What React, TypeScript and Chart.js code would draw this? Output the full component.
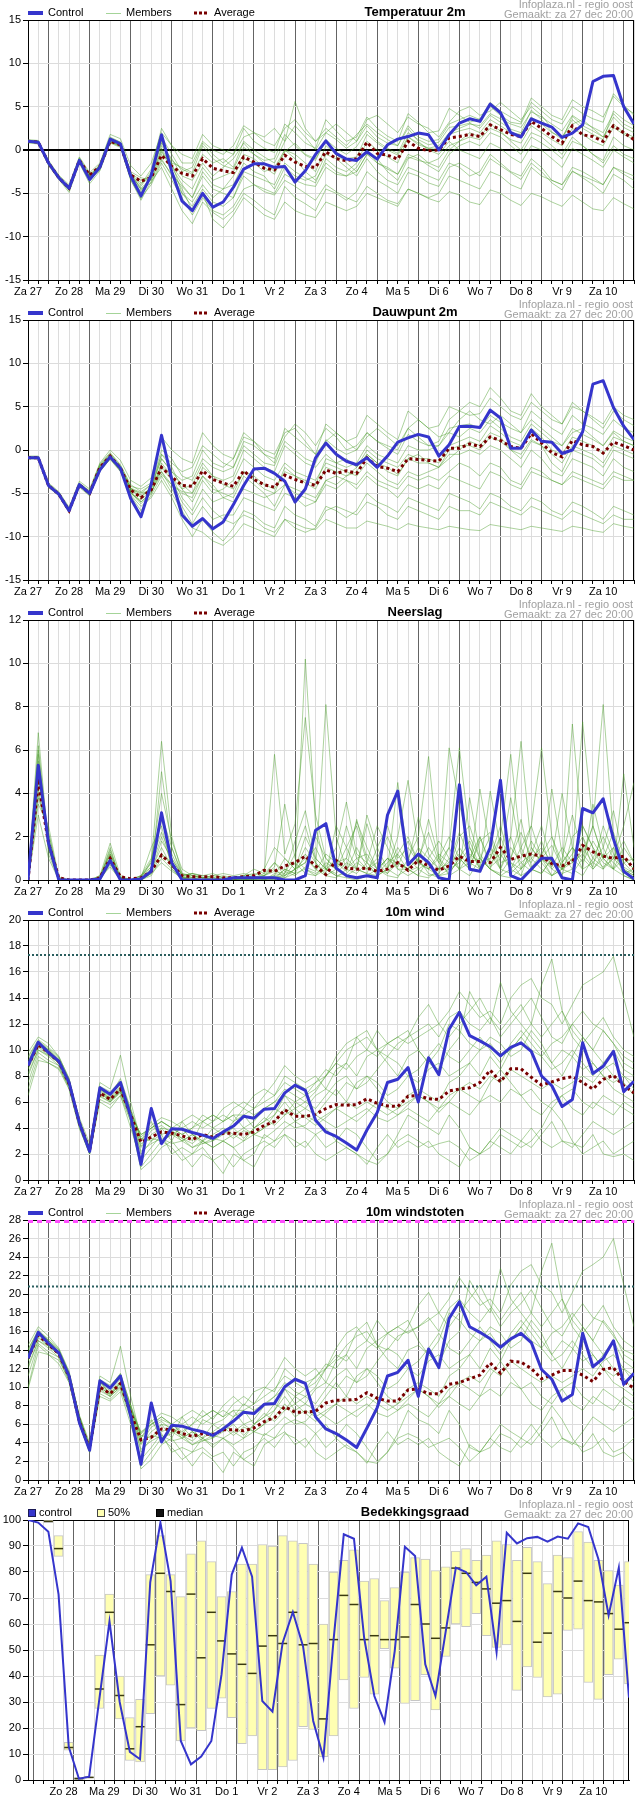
import React, { useEffect, useRef } from 'react';
import { Chart, registerables } from 'chart.js';

Chart.register(...registerables);

// ---------- shared labels ----------
const DAY_LABELS = ['Za 27', 'Zo 28', 'Ma 29', 'Di 30', 'Wo 31', 'Do 1', 'Vr 2', 'Za 3', 'Zo 4', 'Ma 5', 'Di 6', 'Wo 7', 'Do 8', 'Vr 9', 'Za 10'];
const STEP_MAX = 59; // 6-hour steps, step 0 = Za 27 12:00

// ---------- Temperatuur 2m ----------
const TEMP_CONTROL = [1.0, 0.9, -1.5, -3.2, -4.4, -1.2, -3.4, -2.0, 1.25, 0.7, -3.0, -5.3, -2.9, 1.75, -2.5, -5.9, -7.0, -5.0, -6.6, -6.0, -4.3, -2.2, -1.6, -1.6, -2.0, -1.9, -3.7, -2.4, -0.5, 1.05, -0.4, -1.05, -1.2, -0.2, -1.05, 0.6, 1.25, 1.55, 1.95, 1.75, 0.0, 1.75, 3.1, 3.6, 3.3, 5.3, 4.3, 2.0, 1.5, 3.6, 3.1, 2.65, 1.45, 1.95, 2.9, 7.9, 8.5, 8.6, 5.0, 3.0];
const TEMP_AVERAGE = [1.0, 0.9, -1.5, -3.2, -4.4, -1.2, -2.9, -1.9, 1.0, 0.6, -2.9, -3.6, -3.2, -0.6, -1.9, -2.7, -3.0, -1.0, -2.1, -2.4, -2.6, -0.8, -1.4, -2.1, -2.3, -0.6, -1.4, -1.9, -2.0, -0.2, -1.0, -1.25, -1.0, 0.9, -0.4, -0.6, -1.05, 1.0, 0.2, -0.1, 0.0, 1.4, 1.55, 1.8, 1.55, 2.9, 2.35, 1.8, 1.55, 3.3, 2.5, 1.55, 0.8, 2.8, 1.75, 1.55, 1.0, 2.8, 2.0, 1.2];
const TEMP_MEMBERS = [
  [1.1, 1.0, -1.3, -3.0, -4.6, -1.0, -3.2, -1.6, 1.5, 0.9, -2.5, -3.2, -3.5, -0.5, -1.5, -2.0, -2.6, 0.5, -1.0, -1.8, -2.2, 0.3, -0.5, -1.2, -1.0, 1.8, 0.5, -0.6, -1.2, 1.2, 0.2, -0.5, 0.4, 2.2, 1.0, 0.2, -0.4, 2.0, 1.2, 0.6, 0.9, 2.6, 2.8, 3.1, 2.5, 4.0, 3.2, 2.4, 2.0, 4.6, 3.5, 2.1, 1.2, 3.9, 2.8, 2.2, 1.5, 3.8, 2.6, 2.0],
  [0.8, 0.7, -1.8, -3.4, -4.9, -1.5, -3.9, -2.4, 0.8, 0.3, -3.4, -5.8, -3.6, -2.0, -4.5, -7.0, -8.5, -6.0, -7.2, -8.0, -7.0, -5.0, -5.8, -6.8, -7.5, -4.2, -5.5, -6.2, -7.0, -4.5, -5.0, -5.8, -4.8, -2.5, -3.5, -4.2, -5.0, -2.6, -3.0, -3.8, -4.2, -2.0, -1.5, -2.2, -3.0, -1.0, -1.8, -2.6, -3.4, -1.5, -2.5, -3.8, -4.6, -2.4, -3.2, -4.0, -5.0, -2.8, -3.5, -4.5],
  [1.0, 0.9, -1.6, -3.3, -4.3, -1.3, -3.0, -2.2, 1.0, 0.5, -3.2, -4.8, -3.0, 0.2, -2.0, -4.0, -5.5, -3.0, -4.5, -5.0, -5.5, -3.0, -4.0, -4.8, -5.2, -3.5, -4.2, -5.0, -5.8, -4.0, -4.8, -5.5, -6.0, -4.2, -5.0, -5.8, -6.2, -4.5, -5.0, -5.6, -6.0, -4.8, -5.2, -6.0, -6.3, -4.6, -5.0, -5.8, -6.4, -5.0, -5.4, -6.0, -6.5, -5.2, -6.0, -6.8, -7.0, -5.5, -6.2, -6.8],
  [1.2, 1.1, -1.2, -2.9, -4.0, -0.8, -2.6, -1.5, 1.8, 1.3, -1.8, -3.0, -1.5, 2.0, 0.5, -0.5, -1.0, 1.8, 0.5, 0.0, -0.5, 2.5, 1.0, 0.2, -0.3, 3.0, 2.0, 0.8, 0.2, 3.5, 2.2, 1.0, 1.5, 3.8, 2.5, 1.6, 1.0, 4.2, 3.2, 2.0, 2.2, 4.8, 4.0, 3.2, 3.6, 5.5, 4.5, 3.8, 3.2, 6.0, 5.0, 4.0, 3.5, 5.8, 5.0, 4.5, 3.8, 6.2, 5.0, 4.2],
  [0.9, 0.8, -1.5, -3.1, -4.5, -1.1, -3.5, -2.1, 1.1, 0.6, -3.1, -4.2, -2.5, 0.5, -1.0, -3.0, -3.5, -1.5, -3.0, -2.0, -1.0, 0.8, -0.5, -1.5, -2.5, 0.0, -1.0, -2.5, -3.5, -1.5, -2.5, -3.0, -2.0, 0.0, -1.5, -2.0, -2.8, -0.5, -1.0, -1.8, -2.5, -0.5, 0.5, 1.0, 0.5, 2.0, 1.5, 0.5, -0.5, 1.5, 0.8, 0.0, -1.0, 1.0, 0.5, -0.5, -1.5, 0.5, -0.5, -1.0],
  [1.0, 1.0, -1.4, -3.2, -4.2, -0.9, -2.8, -1.8, 1.4, 0.9, -2.6, -4.6, -3.4, -1.0, -3.0, -5.0, -6.5, -4.5, -6.0, -6.5, -5.5, -2.5, -3.0, -3.5, -4.0, -1.5, -2.5, -3.2, -3.8, -1.0, -2.0, -2.5, -1.5, 1.0, 0.0, -0.8, -1.5, 1.5, 0.8, 0.2, 0.5, 2.0, 2.5, 3.0, 2.8, 4.2, 3.6, 3.0, 2.6, 4.4, 3.8, 3.0, 2.2, 4.0, 3.2, 2.6, 2.0, 4.2, 3.0, 2.4],
  [1.1, 0.9, -1.6, -3.4, -4.6, -1.3, -3.3, -2.3, 0.9, 0.4, -3.5, -5.5, -4.0, -1.5, -3.5, -5.5, -7.5, -5.5, -7.0, -7.5, -6.5, -4.5, -4.0, -4.5, -5.0, -2.8, -3.5, -4.0, -4.2, -2.0, -2.8, -3.0, -2.5, -0.5, -1.5, -2.2, -2.8, -0.8, -1.2, -1.5, -1.0, 0.5, 1.0, 1.5, 1.2, 2.5, 2.0, 1.2, 0.8, 2.8, 2.0, 1.2, 0.5, 2.5, 1.8, 1.0, 0.5, 2.6, 1.8, 1.2],
  [1.0, 0.9, -1.5, -3.1, -4.3, -1.1, -3.1, -1.9, 1.2, 0.8, -2.8, -3.8, -3.2, 1.5, -0.5, -2.5, -2.0, 0.8, -0.5, -1.5, -0.5, 1.5, 2.0, 1.0, 0.5, 2.5, 3.5, 2.0, 1.0, 2.5, 1.5, 0.5, 1.8, 3.0, 2.0, 1.2, 0.5, 2.5, 1.0, 0.0, -0.5, 1.0, 0.0, -0.5, -1.0, 0.8, 0.2, -0.8, -1.5, 0.5, 0.0, -1.0, -2.0, 0.2, -0.5, -1.2, -2.0, 0.0, -0.8, -1.5],
  [1.1, 1.0, -1.4, -3.0, -4.4, -1.2, -3.0, -1.7, 1.3, 0.8, -2.9, -4.4, -3.3, -0.2, -1.8, -3.5, -4.5, -2.0, -3.5, -3.0, -2.5, -0.5, -1.0, -2.0, -2.8, -0.2, 0.8, -0.5, -1.0, 1.0, -0.2, -1.0, -0.8, 1.8, 0.8, 0.0, -0.6, 1.5, 0.6, 0.2, 0.0, 1.8, 2.2, 2.5, 2.0, 3.5, 2.8, 2.0, 1.8, 3.8, 3.0, 2.0, 1.5, 3.5, 2.5, 1.8, 1.2, 4.5, 3.5, 2.8],
  [0.9, 0.8, -1.7, -3.3, -4.7, -1.4, -3.6, -2.2, 0.9, 0.5, -3.3, -5.0, -2.8, 0.8, -1.2, -2.2, -2.8, -0.5, -1.5, -1.0, -2.0, 1.0, 0.0, -0.8, -1.5, 1.0, 5.6, 2.5, 1.0, 2.0, 1.2, 0.2, 1.0, 2.8, 1.5, 0.8, 0.5, 2.8, 1.5, 1.0, 1.2, 3.0, 3.5, 4.0, 3.5, 5.0, 4.0, 3.2, 3.0, 5.5, 4.5, 3.5, 3.0, 5.0, 4.2, 3.6, 3.2, 6.5, 5.2, 4.0],
  [1.0, 0.8, -1.6, -3.2, -4.5, -1.3, -3.2, -2.0, 1.1, 0.6, -3.0, -4.0, -2.2, 2.5, 0.5, -1.5, -1.5, 1.0, 0.0, -0.5, 0.5, 2.8, 2.0, 1.5, 2.5, 1.0, 2.8, 1.5, 0.0, 2.0, 3.0, 2.0, 1.0, 3.5, 4.0, 3.0, 2.0, 3.8, 3.0, 2.5, 1.5, 3.2, 4.5, 5.0, 4.0, 4.5, 5.5, 4.5, 3.5, 5.0, 4.0, 2.5, 1.5, 3.0, 3.5, 2.5, 1.5, 3.0, 2.0, 1.5],
  [1.1, 1.0, -1.5, -3.3, -4.4, -1.0, -3.1, -2.1, 1.0, 0.5, -3.2, -4.5, -3.8, -1.2, -2.8, -4.2, -5.5, -2.5, -4.0, -4.5, -4.0, -1.5, -2.5, -3.0, -4.5, -2.0, -3.0, -3.5, -3.0, -0.5, -1.0, -2.0, -3.0, -1.0, -2.5, -3.5, -4.0, -2.0, -2.5, -3.0, -3.5, -1.5, -2.0, -3.0, -2.5, -0.5, -1.5, -2.5, -3.0, -1.0, -2.0, -3.5, -4.0, -2.0, -2.5, -3.2, -4.0, -2.0, -2.5, -3.0],
  [0.9, 0.9, -1.4, -3.1, -4.4, -1.2, -3.3, -1.8, 1.2, 0.7, -3.0, -5.6, -2.6, 1.0, -1.5, -5.0, -6.0, -4.0, -5.5, -4.5, -3.0, -1.0, -1.5, -2.5, -2.0, 0.0, -0.5, -1.5, -2.5, 0.5, -0.5, -1.5, -2.5, -0.5, -1.0, -2.5, -3.5, -1.0, -0.5, -1.5, -2.0, 0.0, 1.0, 2.0, 1.5, 3.0, 2.2, 1.0, 0.0, 2.0, 1.5, 0.5, -0.5, 1.5, 0.5, -0.5, -1.2, 1.5, 0.5, 0.0],
  [1.0, 1.0, -1.5, -3.2, -4.3, -1.1, -2.9, -1.9, 1.3, 0.8, -2.7, -3.5, -3.0, 0.0, -2.5, -4.5, -7.0, -5.0, -8.0, -9.0, -7.5, -5.5, -6.5, -7.5, -8.0, -6.0, -7.0, -7.5, -7.8, -6.0, -6.5, -7.0, -6.5, -5.0, -5.5, -6.0, -6.5, -4.5, -5.0, -5.5, -5.0, -3.0, -3.5, -4.0, -4.5, -2.5, -3.0, -4.0, -4.5, -2.0, -3.0, -3.5, -4.0, -2.5, -3.0, -3.5, -4.0, -2.0, -2.8, -3.5],
];

// ---------- Dauwpunt 2m ----------
const DEW_CONTROL = [-0.9, -0.9, -4.1, -5.1, -7.0, -4.0, -5.0, -2.3, -0.8, -2.1, -5.6, -7.7, -3.9, 1.7, -3.4, -7.5, -8.8, -7.9, -9.1, -8.3, -6.3, -4.1, -2.2, -2.1, -2.7, -3.6, -6.0, -4.5, -0.9, 0.8, -0.5, -1.3, -1.7, -0.9, -2.0, -0.7, 0.9, 1.4, 1.8, 1.5, -0.7, 0.6, 2.7, 2.75, 2.6, 4.6, 3.7, 0.2, 0.2, 2.3, 1.0, 0.9, -0.4, 0.0, 2.1, 7.6, 8.0, 4.9, 2.75, 1.2];
const DEW_AVERAGE = [-0.9, -0.9, -4.1, -5.1, -7.0, -4.0, -5.0, -2.0, -0.7, -2.1, -4.6, -5.5, -4.6, -2.0, -3.1, -4.1, -4.2, -2.4, -3.4, -3.8, -4.2, -2.4, -3.4, -4.0, -4.3, -2.9, -3.4, -3.8, -4.1, -2.3, -2.7, -2.4, -2.7, -0.9, -1.9, -2.1, -2.5, -1.0, -1.1, -1.2, -1.3, 0.2, 0.2, 0.7, 0.4, 1.5, 1.1, 0.4, 0.2, 1.9, 0.8, -0.3, -0.8, 1.1, 0.6, 0.4, -0.35, 0.9, 0.5, 0.0];
const DEW_MEMBERS = [
  [-0.8, -0.8, -3.9, -4.9, -6.8, -3.8, -4.7, -1.6, -0.3, -1.7, -4.0, -4.8, -4.0, -0.5, -1.5, -2.5, -2.0, 0.5, -0.5, -1.5, -2.0, 0.5, -0.5, -1.5, -1.8, 1.0, 0.0, -1.0, -1.5, 1.2, 0.2, -0.5, 0.0, 2.0, 1.0, 0.2, -0.5, 1.8, 1.0, 0.5, 0.5, 2.5, 2.8, 3.0, 2.5, 4.0, 3.2, 2.5, 2.0, 4.5, 3.5, 2.5, 1.8, 4.0, 3.0, 2.5, 1.8, 3.5, 2.5, 2.0],
  [-1.0, -1.0, -4.3, -5.3, -7.2, -4.3, -5.3, -2.4, -1.1, -2.5, -5.2, -6.5, -5.5, -3.5, -5.5, -8.0, -10.0, -8.0, -9.5, -10.5, -9.0, -7.0, -7.5, -8.5, -9.0, -6.5, -7.5, -8.0, -8.8, -6.5, -7.0, -7.8, -7.0, -5.0, -6.0, -6.5, -7.2, -5.5, -6.0, -6.5, -7.0, -5.0, -5.5, -6.0, -6.8, -5.0, -5.5, -6.5, -7.0, -5.5, -6.0, -7.0, -7.5, -6.0, -6.5, -7.2, -8.0, -6.5, -7.0, -7.5],
  [-0.9, -0.9, -4.0, -5.0, -7.1, -4.1, -5.0, -2.2, -0.8, -2.2, -4.8, -6.0, -5.0, -2.0, -3.5, -6.0, -7.5, -5.5, -7.0, -8.0, -8.5, -7.5, -8.0, -9.0, -9.5, -8.0, -8.5, -9.0, -9.2, -8.0, -8.5, -9.0, -9.0, -8.2, -8.5, -8.8, -9.2, -8.5, -8.8, -9.0, -9.2, -8.8, -9.0, -9.2, -9.3, -8.6, -8.8, -9.0, -9.2, -8.8, -9.0, -9.2, -9.4, -8.8, -9.0, -9.3, -9.5, -8.5, -8.8, -9.0],
  [-0.7, -0.7, -3.8, -4.8, -6.6, -3.6, -4.5, -1.5, 0.0, -1.2, -3.5, -4.2, -3.2, 1.5, 0.0, -1.0, -1.5, 2.0, 0.5, -0.5, -1.0, 2.0, 1.0, -0.5, -1.5, 2.5, 1.5, 0.5, -0.5, 3.0, 2.0, 1.0, 1.5, 4.0, 3.0, 2.0, 1.2, 4.5, 3.5, 2.5, 2.8, 5.0, 4.5, 4.0, 4.2, 6.0, 5.0, 4.0, 3.5, 5.5, 4.5, 3.5, 3.0, 5.0, 4.5, 3.8, 3.0, 5.0, 4.0, 3.5],
  [-1.0, -1.0, -4.2, -5.2, -7.0, -4.0, -5.2, -2.3, -1.0, -2.4, -5.0, -6.0, -4.8, -2.5, -4.0, -5.0, -5.5, -3.0, -4.5, -5.0, -5.5, -3.0, -4.0, -5.0, -6.5, -4.0, -5.0, -5.5, -6.0, -3.5, -4.0, -3.0, -2.5, -0.5, -1.5, -2.0, -2.8, -1.0, -0.5, -1.5, -2.0, 0.0, 0.5, 0.5, 0.0, 1.5, 1.0, 0.0, -0.5, 1.2, 0.5, -0.5, -1.5, 0.5, 0.0, -0.5, -1.5, 0.5, 0.0, -0.5],
  [-0.8, -0.9, -4.1, -5.0, -6.9, -3.9, -4.8, -1.8, -0.5, -1.9, -4.4, -5.2, -4.4, -1.0, -2.5, -4.0, -5.0, -2.0, -3.0, -3.5, -3.0, 0.0, -1.0, -2.0, -2.5, 0.5, -0.5, -1.5, -2.0, -0.5, -1.5, -2.0, -1.5, 0.5, -0.5, -1.0, -1.5, 0.5, 0.0, 0.0, 0.5, 2.0, 1.5, 2.5, 2.0, 3.5, 2.5, 1.5, 1.0, 3.0, 2.0, 1.0, 0.5, 2.5, 1.8, 1.2, 0.5, 2.2, 1.5, 1.0],
  [-0.9, -1.0, -4.2, -5.2, -7.1, -4.1, -5.1, -2.1, -0.8, -2.2, -4.9, -6.2, -5.0, -1.5, -3.0, -5.5, -7.0, -4.5, -6.0, -5.5, -5.0, -2.5, -3.5, -4.5, -5.0, -2.0, -3.0, -3.5, -4.0, -1.0, -1.5, -1.0, -2.0, 0.0, -1.0, -1.5, -2.0, -0.5, -1.0, -1.0, -1.5, 0.5, 1.0, 1.5, 1.0, 2.8, 2.0, 1.0, 0.5, 2.5, 1.5, 0.0, -0.5, 1.5, 1.0, 0.5, -0.5, 1.5, 1.0, 0.5],
  [-0.9, -0.8, -4.0, -5.1, -7.0, -4.0, -4.9, -1.9, -0.6, -2.0, -4.5, -5.0, -4.0, -2.5, -4.5, -6.5, -8.5, -6.5, -8.0, -7.5, -7.5, -5.5, -6.0, -6.5, -7.0, -5.0, -5.5, -6.5, -6.0, -4.0, -4.5, -3.5, -4.0, -2.5, -3.5, -4.0, -4.5, -3.0, -3.5, -3.0, -3.5, -2.5, -1.5, -2.0, -3.0, -1.5, -2.0, -3.5, -4.0, -2.0, -2.5, -3.5, -4.0, -2.5, -3.0, -3.5, -4.0, -2.5, -3.0, -3.5],
  [-0.8, -0.9, -4.1, -5.0, -6.8, -3.9, -4.9, -1.7, -0.4, -1.8, -4.2, -4.5, -3.8, 0.0, -1.0, -3.0, -3.5, -1.0, -2.0, -2.5, -2.0, 1.0, 0.5, -0.5, -1.0, 1.5, 3.0, 2.0, 0.5, 2.5, 1.5, 0.0, 0.5, 2.0, 1.0, 0.5, 0.0, 2.5, 1.5, 0.5, 1.0, 3.5, 4.5, 5.5, 5.0, 7.2, 6.0, 4.5, 4.0, 6.5, 5.0, 4.0, 3.0, 5.5, 4.5, 3.5, 2.5, 4.5, 3.5, 2.8],
  [-1.0, -0.9, -4.2, -5.2, -7.2, -4.1, -5.0, -2.2, -0.9, -2.3, -5.0, -5.8, -4.5, -1.8, -3.2, -4.5, -4.0, -1.5, -3.0, -4.0, -4.5, -2.5, -3.0, -4.0, -4.5, -2.5, -3.0, -3.8, -4.5, -2.0, -2.5, -3.0, -2.0, -0.5, -1.5, -2.5, -3.0, -1.0, -1.5, -1.5, -2.0, -0.5, -0.5, 0.0, -0.5, 0.5, 0.0, -1.0, -2.0, 0.0, -1.0, -2.5, -3.0, -1.0, -1.5, -2.0, -3.0, -1.0, -2.0, -2.5],
  [-0.9, -0.9, -4.0, -5.1, -6.9, -3.9, -5.0, -2.0, -0.7, -2.0, -4.5, -5.5, -4.2, -1.0, -2.5, -3.5, -3.0, 0.0, -1.5, -2.0, -1.0, 1.5, 1.0, 0.0, -0.5, 2.0, 2.5, 1.0, -0.5, 1.0, 2.0, 1.0, 0.0, 1.5, 2.5, 1.5, 0.5, 2.5, 3.5, 2.5, 1.5, 2.0, 3.5, 4.5, 3.5, 3.0, 4.0, 3.0, 2.0, 3.5, 2.5, 1.5, 0.5, 2.0, 2.5, 1.5, 0.5, 2.0, 1.0, 0.5],
  [-1.0, -1.0, -4.2, -5.2, -7.1, -4.2, -5.2, -2.5, -1.0, -2.4, -5.3, -7.0, -5.2, -3.0, -5.0, -7.0, -9.0, -9.5, -10.5, -11.0, -10.0, -8.5, -9.0, -9.5, -10.0, -8.0, -9.0, -9.5, -9.0, -7.0, -6.5, -7.0, -7.5, -6.0, -6.5, -7.5, -8.0, -6.5, -7.0, -7.5, -8.0, -6.5, -7.0, -7.0, -7.5, -6.0, -6.5, -7.0, -7.5, -6.5, -7.0, -7.5, -8.0, -7.0, -7.5, -8.0, -8.5, -7.5, -8.0, -8.0],
  [-0.8, -0.8, -4.0, -5.0, -7.0, -4.0, -5.0, -2.1, -0.7, -2.0, -4.6, -5.4, -4.4, -0.5, -2.0, -4.5, -6.0, -3.5, -5.0, -4.5, -3.5, -1.0, -2.0, -3.0, -3.5, -1.5, -2.5, -3.0, -3.5, -1.5, -2.0, -2.5, -3.0, -1.5, -2.5, -3.5, -4.0, -2.5, -3.0, -2.5, -2.0, -1.0, 0.0, 1.0, 0.5, 2.0, 1.5, 0.0, -1.0, 1.0, 0.5, -1.5, -2.5, 0.0, -0.5, -1.0, -2.0, 0.0, -0.5, -1.0],
  [-0.9, -0.9, -4.1, -5.1, -7.0, -4.0, -4.9, -1.9, -0.6, -2.0, -4.4, -4.9, -4.8, -2.8, -4.0, -4.8, -5.0, -3.0, -4.0, -5.5, -6.0, -4.5, -5.0, -5.5, -5.0, -4.0, -4.5, -5.0, -5.5, -3.5, -3.0, -3.5, -4.5, -3.0, -4.0, -4.5, -5.5, -4.0, -4.5, -4.0, -4.5, -3.0, -3.5, -4.0, -4.5, -2.5, -3.0, -4.0, -4.5, -2.5, -3.0, -3.5, -4.0, -3.0, -3.5, -4.0, -4.5, -3.0, -3.5, -3.5],
];

// ---------- Neerslag ----------
const RAIN_CONTROL = [0, 5.3, 1.7, 0, 0, 0, 0, 0.05, 0.9, 0, 0, 0.05, 0.4, 3.1, 0.8, 0, 0, 0, 0, 0, 0.1, 0.1, 0.1, 0.1, 0.1, 0.0, 0.0, 0.2, 2.3, 2.6, 0.55, 0.2, 0.1, 0.2, 0.1, 3.0, 4.1, 0.7, 1.2, 0.8, 0.1, 0.0, 4.4, 0.5, 0.4, 1.5, 4.6, 0.2, 0.0, 0.5, 1.0, 1.0, 0.1, 0.0, 3.3, 3.1, 3.75, 1.9, 0.4, 0.05];
const RAIN_AVERAGE = [0, 4.5, 1.7, 0.1, 0, 0, 0, 0.1, 1.0, 0.15, 0.05, 0.1, 0.4, 1.15, 0.7, 0.2, 0.15, 0.15, 0.15, 0.1, 0.1, 0.15, 0.2, 0.45, 0.4, 0.65, 0.8, 1.1, 0.65, 0.25, 0.9, 0.55, 0.5, 0.55, 0.4, 0.5, 0.8, 0.45, 0.9, 0.65, 0.45, 0.65, 1.1, 0.85, 0.85, 0.8, 1.5, 0.95, 1.1, 1.2, 1.1, 0.75, 0.65, 0.85, 1.6, 1.3, 1.1, 1.0, 1.1, 0.5];
const RAIN_MEMBERS = [
  [0, 6.8, 1.5, 0.1, 0, 0, 0, 0.2, 1.2, 0.1, 0, 0.2, 0.8, 6.4, 2.0, 0.3, 0.2, 0.1, 0, 0, 0, 0.1, 0.2, 0, 0, 0.5, 0.3, 10.2, 2.5, 0.5, 0.2, 0.1, 0, 0.2, 0.5, 1.0, 0.8, 0.5, 0.2, 0.1, 0.5, 1.5, 6.1, 2.0, 1.0, 0.5, 0.2, 0.1, 0.5, 1.2, 1.0, 0.2, 0.5, 7.2, 2.0, 0.5, 1.0, 1.5, 0.2, 0],
  [0, 4.0, 2.0, 0, 0, 0, 0, 0.1, 1.5, 0, 0, 0, 0.3, 5.0, 1.5, 0.2, 0.3, 0.2, 0.3, 0.1, 0, 0.2, 0.5, 0.3, 5.8, 1.2, 2.6, 7.5, 3.0, 1.0, 0.5, 1.5, 2.5, 0.8, 0.2, 0.5, 2.0, 4.6, 1.5, 0.5, 0.2, 0.3, 1.0, 0.5, 4.2, 1.5, 0.5, 2.0, 6.4, 1.5, 0.8, 0.2, 0.5, 1.0, 7.3, 2.5, 1.0, 0.5, 0.2, 0],
  [0, 5.5, 1.8, 0, 0, 0, 0, 0, 0.8, 0.1, 0, 0.1, 1.5, 2.5, 0.5, 0, 0, 0, 0.1, 0.2, 0.1, 0.1, 0, 0, 0, 0.2, 0.5, 1.0, 0.5, 8.1, 2.0, 0.5, 2.8, 1.0, 0.5, 0.2, 0.1, 1.0, 2.0, 5.7, 1.0, 0.2, 0.5, 3.8, 1.2, 0.5, 0.2, 0.5, 1.0, 2.5, 6.1, 2.0, 0.5, 0.3, 1.0, 2.5, 8.1, 2.0, 0.5, 0.2],
  [0, 3.0, 1.0, 0, 0, 0, 0, 0.1, 0.6, 0, 0, 0, 0.5, 1.2, 0.8, 0.1, 0, 0, 0, 0, 0.1, 0, 0.1, 0.2, 0.8, 0.2, 0.5, 1.5, 0.8, 0.3, 2.5, 1.5, 0.5, 3.0, 1.5, 0.5, 0.2, 0.5, 1.0, 0.3, 0.1, 6.1, 3.5, 1.5, 0.5, 1.0, 2.5, 0.8, 0.2, 0.5, 0.3, 1.0, 4.0, 1.5, 0.5, 3.5, 1.5, 0.5, 4.9, 1.5],
  [0, 4.5, 2.2, 0.1, 0, 0, 0, 0.2, 1.7, 0.2, 0, 0.1, 0.8, 4.0, 1.8, 0.5, 0.2, 0.1, 0.2, 0.3, 0.2, 0.3, 0.2, 0.5, 1.5, 1.0, 0.5, 2.0, 1.0, 0.5, 0.8, 1.0, 0.5, 0.3, 1.5, 2.5, 1.0, 1.5, 0.8, 0.5, 1.0, 2.0, 1.0, 0.5, 2.0, 0.8, 1.2, 0.5, 1.5, 2.5, 1.0, 0.5, 0.2, 2.0, 2.5, 1.5, 0.8, 0.5, 1.0, 0.5],
  [0, 5.0, 1.5, 0, 0, 0, 0, 0, 0.9, 0, 0, 0, 0.2, 1.0, 0.5, 0.1, 0, 0, 0, 0, 0, 0, 0, 0.1, 0, 0.3, 1.2, 2.5, 0.8, 0.2, 0.5, 2.5, 1.0, 0.5, 0.8, 0.3, 1.2, 2.0, 0.8, 2.8, 1.0, 0.5, 0.8, 1.5, 0.5, 4.1, 1.5, 0.5, 0.2, 1.5, 0.8, 4.2, 1.2, 0.5, 0.2, 1.0, 2.0, 1.0, 0.5, 0.2],
  [0, 6.0, 1.2, 0, 0, 0, 0, 0.1, 1.0, 0.1, 0, 0.2, 1.0, 3.0, 1.5, 0.3, 0.1, 0, 0, 0, 0, 0, 0.1, 0.2, 0.5, 0.1, 0.3, 1.2, 0.5, 0.2, 0.1, 0.5, 1.0, 1.2, 0.5, 0.3, 0.8, 0.5, 0.2, 1.0, 1.8, 1.0, 0.5, 0.2, 1.0, 0.5, 0.3, 1.0, 2.2, 1.0, 0.5, 0.2, 0.8, 1.5, 1.0, 0.5, 1.2, 0.8, 0.3, 0.5],
  [0, 3.5, 2.5, 0.1, 0, 0, 0, 0, 1.1, 0, 0, 0, 0.4, 1.8, 1.0, 0.2, 0.3, 0.2, 0.1, 0, 0.1, 0.2, 0.1, 0, 0.2, 1.0, 0.5, 0.8, 2.0, 1.0, 0.5, 1.0, 2.7, 1.5, 0.5, 1.0, 0.5, 0.5, 1.5, 1.0, 0.5, 0.5, 2.0, 2.5, 1.0, 0.5, 2.0, 5.8, 1.5, 0.5, 0.3, 1.0, 0.5, 0.8, 2.5, 1.5, 0.5, 1.0, 2.5, 4.5],
  [0, 4.8, 1.8, 0, 0, 0, 0, 0.1, 1.3, 0.1, 0, 0.1, 0.6, 2.0, 0.8, 0.1, 0, 0, 0, 0, 0, 0.1, 0, 0, 0.1, 0.5, 0.3, 0.5, 0.2, 0.5, 1.0, 0.5, 0.3, 0.8, 2.5, 1.5, 0.5, 0.2, 0.5, 0.8, 0.2, 0.5, 1.5, 0.8, 1.0, 2.0, 0.5, 0.3, 0.8, 1.2, 2.5, 0.8, 0.5, 1.0, 0.5, 0.8, 1.5, 3.2, 1.0, 0.5],
  [0, 5.2, 1.6, 0, 0, 0, 0, 0, 0.7, 0, 0, 0, 0.3, 0.8, 0.4, 0.1, 0.1, 0, 0, 0, 0, 0, 0, 0, 0.3, 0.2, 0.8, 0.3, 0.2, 0.8, 0.5, 0.2, 0.5, 0.3, 0.2, 0.5, 4.5, 1.0, 0.5, 0.2, 0.3, 1.0, 0.5, 0.8, 0.5, 1.5, 1.0, 2.0, 0.5, 1.0, 1.5, 0.8, 0.3, 0.5, 1.5, 0.8, 0.5, 1.5, 0.8, 0.3],
  [0, 4.2, 1.9, 0.1, 0, 0, 0, 0.1, 1.4, 0.1, 0, 0.2, 0.6, 2.8, 1.2, 0.2, 0.3, 0.1, 0.2, 0.1, 0.1, 0.2, 0.3, 0.2, 0.6, 3.5, 1.0, 0.5, 0.3, 0.6, 1.5, 3.6, 1.2, 0.8, 0.4, 1.0, 0.6, 1.8, 0.8, 0.5, 1.2, 0.8, 2.2, 1.0, 2.0, 0.6, 1.0, 3.8, 1.2, 0.8, 1.8, 0.5, 1.0, 3.0, 1.2, 0.6, 2.5, 1.2, 0.6, 0.3],
  [0, 5.8, 1.4, 0, 0, 0, 0, 0, 1.0, 0, 0, 0, 0.5, 1.5, 0.6, 0.1, 0.1, 0.1, 0, 0, 0, 0, 0.1, 0.1, 0.2, 0.1, 0.5, 0.8, 1.5, 0.5, 0.3, 0.8, 0.5, 2.6, 1.0, 0.5, 1.5, 0.8, 2.9, 1.2, 0.5, 0.8, 1.2, 0.6, 1.8, 2.2, 0.8, 1.0, 2.8, 0.6, 1.2, 2.0, 0.8, 1.5, 0.8, 1.8, 1.0, 0.5, 1.5, 0.8],
  [0, 3.8, 2.2, 0, 0, 0, 0, 0.1, 0.8, 0, 0, 0.1, 0.9, 2.2, 1.0, 0.2, 0, 0, 0, 0.1, 0, 0.1, 0, 0.2, 0.4, 0.3, 1.8, 3.2, 1.0, 0.5, 0.2, 0.3, 0.8, 0.5, 1.0, 2.0, 0.8, 0.5, 1.0, 2.2, 0.8, 1.5, 0.5, 1.2, 0.8, 1.0, 2.0, 0.8, 0.5, 1.8, 1.0, 0.6, 1.5, 0.8, 1.2, 2.5, 1.0, 2.2, 0.8, 1.0],
  [0, 6.2, 1.7, 0, 0, 0, 0, 0.1, 1.2, 0.1, 0, 0, 0.3, 1.2, 0.7, 0.1, 0.2, 0.1, 0.1, 0, 0, 0, 0.1, 0.3, 0.8, 0.4, 0.2, 0.6, 0.4, 1.2, 0.8, 0.4, 1.5, 0.6, 0.3, 0.8, 1.2, 0.4, 0.6, 1.5, 0.8, 0.3, 1.0, 1.8, 0.6, 1.2, 0.5, 1.5, 0.8, 0.4, 1.0, 1.6, 0.6, 1.2, 2.0, 1.0, 0.6, 1.0, 1.8, 0.8],
];

// ---------- 10m wind ----------
const WIND_CONTROL = [8.8, 10.6, 9.8, 9.15, 7.5, 4.4, 2.2, 7.1, 6.6, 7.5, 4.9, 1.2, 5.5, 2.8, 3.95, 3.9, 3.65, 3.45, 3.2, 3.7, 4.15, 4.9, 4.75, 5.45, 5.5, 6.7, 7.3, 6.9, 4.6, 3.7, 3.35, 2.85, 2.3, 3.85, 5.2, 7.5, 7.75, 8.65, 6.0, 9.4, 8.1, 11.6, 12.9, 11.1, 10.7, 10.25, 9.55, 10.2, 10.55, 9.9, 8.0, 7.25, 5.65, 6.2, 10.55, 8.2, 8.75, 9.9, 6.8, 7.6];
const WIND_AVERAGE = [8.8, 10.4, 9.8, 9.1, 7.4, 4.4, 2.3, 6.7, 6.2, 7.0, 5.0, 2.9, 3.3, 3.7, 3.6, 3.4, 3.1, 3.5, 3.3, 3.6, 3.6, 3.5, 3.7, 4.2, 4.5, 5.4, 4.9, 4.9, 5.05, 5.5, 5.8, 5.75, 5.8, 6.25, 5.9, 5.7, 5.65, 6.45, 6.5, 6.25, 6.2, 6.85, 7.0, 7.1, 7.5, 8.45, 7.55, 8.55, 8.55, 7.9, 7.3, 7.55, 7.8, 7.95, 7.5, 7.0, 7.75, 8.05, 7.25, 6.7];
const WIND_THRESHOLDS = [17.3];
const WIND_MEMBERS = [
  [9.5, 10.8, 10.2, 9.5, 7.8, 4.5, 2.5, 7.0, 6.5, 7.8, 5.5, 3.0, 4.5, 3.0, 3.5, 4.0, 3.0, 4.5, 4.0, 4.5, 5.0, 4.0, 4.5, 5.5, 6.0, 7.0, 6.5, 6.0, 6.8, 8.0, 9.0, 10.0, 10.5, 11.0, 10.0, 9.5, 10.5, 11.0, 11.5, 12.0, 11.0, 12.5, 13.0, 12.0, 11.5, 12.5, 11.0, 12.0, 13.0, 14.0, 12.5, 11.0, 10.5, 12.0, 13.0, 12.0, 11.5, 10.5, 9.5, 9.0],
  [7.0, 9.5, 9.0, 8.5, 7.0, 4.0, 2.0, 6.0, 5.5, 6.5, 4.0, 1.5, 2.5, 3.5, 2.0, 2.5, 2.0, 2.5, 1.5, 2.0, 1.0, 2.0, 2.5, 3.0, 2.5, 3.5, 3.0, 2.5, 3.5, 4.0, 3.0, 2.5, 2.0, 1.5, 1.2, 2.0, 3.0, 3.5, 3.0, 2.5, 2.8, 3.0, 2.5, 1.5, 2.0, 3.0, 2.5, 2.0, 3.0, 4.0, 3.0, 2.5, 3.0, 2.8, 2.5, 3.5, 2.0, 1.8, 2.0, 1.5],
  [9.0, 10.5, 10.0, 9.0, 7.5, 4.8, 2.8, 7.2, 6.0, 7.0, 5.0, 3.5, 4.0, 4.5, 4.0, 3.5, 4.0, 5.0, 4.5, 5.5, 6.0, 5.5, 6.5, 7.0, 6.5, 8.0, 7.5, 7.0, 7.5, 8.5, 8.0, 9.0, 11.0, 11.5, 10.0, 9.0, 8.0, 9.5, 10.0, 9.0, 8.5, 10.0, 11.0, 14.5, 13.0, 12.0, 15.2, 13.0, 12.0, 11.0, 10.0, 9.0, 8.0, 9.5, 11.0, 10.0, 9.0, 8.0, 7.5, 6.5],
  [8.0, 10.0, 9.5, 8.8, 7.2, 4.2, 2.0, 6.5, 6.0, 6.8, 4.5, 1.0, 2.0, 3.0, 2.5, 1.5, 2.0, 3.0, 2.5, 3.0, 2.5, 1.5, 2.0, 3.5, 3.0, 4.0, 4.5, 4.0, 3.5, 2.5, 3.0, 4.0, 3.5, 2.5, 1.5, 2.0, 3.5, 5.0, 4.5, 4.0, 3.5, 5.0, 4.0, 2.5, 2.0, 2.5, 3.5, 3.0, 2.5, 3.0, 4.0, 5.5, 4.5, 3.0, 2.0, 2.5, 3.0, 2.0, 2.5, 3.0],
  [9.2, 10.6, 10.0, 9.3, 7.6, 4.6, 2.4, 7.0, 6.4, 7.2, 5.2, 3.2, 3.0, 4.0, 3.8, 3.0, 3.5, 3.0, 4.0, 3.5, 4.5, 5.0, 4.0, 4.5, 5.5, 5.0, 6.0, 5.5, 6.5, 7.0, 6.5, 7.5, 7.0, 8.0, 7.5, 6.5, 7.0, 8.0, 7.5, 8.5, 9.0, 8.0, 8.5, 9.0, 10.0, 10.5, 9.5, 10.0, 11.0, 10.0, 9.5, 10.5, 11.0, 12.0, 11.0, 10.0, 11.5, 10.5, 9.0, 8.5],
  [8.5, 10.2, 9.6, 9.0, 7.3, 4.3, 2.2, 6.8, 6.2, 7.0, 4.8, 2.5, 3.5, 4.0, 3.0, 4.5, 3.5, 3.0, 3.5, 4.0, 3.5, 3.0, 4.0, 4.5, 5.0, 6.0, 5.0, 5.5, 5.0, 6.0, 7.0, 6.0, 7.5, 8.0, 7.0, 6.0, 5.5, 6.5, 7.0, 6.5, 6.0, 7.5, 8.0, 9.0, 8.0, 9.5, 8.5, 10.0, 11.0, 12.0, 15.0, 17.0, 13.0, 11.0, 10.0, 9.0, 8.0, 7.0, 6.5, 6.0],
  [8.8, 10.4, 9.8, 9.0, 7.4, 4.4, 2.3, 6.6, 6.2, 6.9, 5.0, 2.0, 3.0, 3.5, 3.8, 3.2, 2.5, 3.0, 2.5, 3.0, 3.5, 4.0, 3.5, 4.0, 4.5, 5.5, 4.5, 5.0, 4.5, 5.0, 5.5, 6.0, 5.5, 6.0, 5.5, 5.0, 5.5, 6.0, 6.5, 6.0, 5.5, 6.5, 7.0, 7.5, 7.0, 8.0, 7.5, 8.5, 8.0, 7.5, 7.0, 7.5, 7.0, 7.5, 8.0, 7.5, 8.5, 9.0, 8.0, 7.5],
  [9.8, 11.0, 10.5, 9.5, 7.8, 4.6, 2.5, 7.5, 7.0, 9.6, 6.0, 3.0, 4.0, 4.5, 4.0, 4.5, 5.0, 4.5, 5.0, 4.5, 5.5, 6.0, 5.5, 6.5, 7.5, 8.8, 8.0, 7.5, 8.0, 7.0, 8.5, 9.0, 8.0, 9.5, 10.0, 10.5, 11.0, 10.5, 11.0, 11.5, 12.0, 13.0, 14.5, 13.5, 12.5, 13.0, 12.0, 14.0, 15.0, 15.5, 14.0, 13.5, 12.0, 13.5, 15.0, 15.5, 16.0, 17.2, 14.0, 11.0],
  [7.5, 9.8, 9.2, 8.8, 7.0, 4.0, 2.0, 6.2, 5.8, 6.5, 4.5, 0.8, 1.5, 2.5, 3.0, 2.0, 1.0, 2.0, 1.5, 0.5, 2.0, 1.5, 1.0, 2.5, 3.0, 3.5, 2.5, 3.0, 2.0, 1.5, 2.0, 2.5, 2.0, 1.2, 2.5, 3.5, 2.5, 3.0, 2.5, 3.0, 2.0, 1.5, 1.0, 2.5, 2.0, 3.0, 4.0, 3.5, 3.0, 2.5, 3.5, 4.5, 3.0, 2.5, 3.5, 4.5, 4.0, 3.5, 4.0, 4.5],
  [8.6, 10.3, 9.7, 9.2, 7.5, 4.5, 2.2, 6.9, 6.3, 7.1, 5.1, 3.5, 4.0, 4.5, 4.0, 3.5, 4.0, 4.5, 5.0, 4.5, 5.0, 5.0, 5.5, 6.0, 6.5, 7.5, 7.0, 6.5, 7.0, 8.0, 9.5, 10.5, 11.0, 10.0, 9.5, 10.5, 11.0, 11.5, 10.0, 9.0, 10.0, 12.0, 11.5, 10.5, 10.0, 11.0, 10.5, 9.5, 10.0, 11.5, 10.5, 9.0, 10.0, 9.5, 8.5, 9.0, 8.0, 7.5, 8.0, 7.0],
  [6.5, 9.2, 9.0, 8.6, 7.2, 4.3, 2.3, 6.4, 6.0, 6.7, 4.8, 2.2, 2.8, 3.2, 2.8, 3.0, 3.5, 2.8, 3.0, 3.5, 4.0, 3.2, 4.0, 4.8, 4.2, 5.0, 5.5, 4.8, 4.2, 4.8, 5.5, 5.0, 4.5, 5.2, 6.0, 5.5, 5.0, 5.8, 6.5, 6.0, 5.2, 6.0, 7.0, 6.5, 6.0, 7.5, 8.5, 7.5, 6.5, 7.0, 6.0, 5.5, 6.5, 7.0, 6.0, 5.5, 6.5, 6.0, 5.5, 5.0],
  [9.0, 10.6, 10.0, 9.2, 7.6, 4.5, 2.3, 7.0, 6.6, 7.3, 5.3, 2.6, 3.8, 4.2, 3.6, 3.2, 2.8, 3.5, 3.0, 3.8, 3.2, 3.8, 3.5, 4.0, 5.0, 6.5, 5.5, 6.0, 5.5, 6.5, 7.5, 8.0, 7.0, 7.5, 8.5, 9.5, 9.0, 8.0, 8.5, 9.5, 10.5, 9.5, 9.0, 10.0, 11.0, 10.0, 9.0, 10.5, 11.5, 10.5, 9.5, 8.5, 9.0, 10.0, 9.0, 8.0, 9.0, 10.0, 8.5, 8.0],
  [8.2, 10.0, 9.6, 9.0, 7.3, 4.4, 2.2, 6.7, 6.1, 6.8, 4.9, 2.8, 3.2, 3.0, 3.5, 3.0, 2.5, 2.8, 3.2, 3.0, 2.5, 3.0, 3.5, 3.2, 3.8, 4.5, 4.0, 4.2, 5.0, 4.5, 4.0, 4.5, 5.0, 5.5, 4.8, 4.5, 5.0, 5.5, 5.0, 4.5, 5.5, 6.0, 5.5, 5.0, 6.0, 6.5, 6.0, 7.0, 6.5, 5.5, 5.0, 6.0, 6.5, 5.5, 5.0, 6.0, 5.5, 5.0, 6.0, 5.5],
  [9.4, 10.7, 10.1, 9.4, 7.7, 4.5, 2.4, 7.2, 6.8, 7.6, 5.4, 3.3, 4.2, 4.8, 4.5, 4.0, 4.5, 4.0, 4.5, 5.0, 4.5, 5.5, 5.0, 5.5, 6.0, 6.5, 6.0, 6.5, 7.5, 8.0, 9.0, 8.5, 9.5, 10.0, 11.5, 10.5, 10.0, 11.0, 12.5, 13.5, 12.0, 11.0, 12.0, 13.0, 14.0, 12.5, 11.5, 12.5, 13.5, 12.0, 11.0, 12.0, 13.0, 11.5, 10.5, 11.5, 12.5, 11.0, 10.0, 9.5],
];

// ---------- 10m windstoten ----------
const GUST_CONTROL = [13.1, 15.9, 14.7, 13.7, 11.2, 6.2, 3.2, 10.7, 9.9, 11.2, 6.9, 1.7, 8.3, 4.1, 5.9, 5.8, 5.45, 5.2, 4.8, 5.5, 6.35, 7.3, 7.15, 8.15, 8.25, 10.05, 10.85, 10.4, 6.8, 5.5, 5.0, 4.3, 3.5, 5.6, 7.8, 11.2, 11.6, 12.9, 9.0, 14.1, 12.1, 17.4, 19.2, 16.5, 15.9, 15.2, 14.3, 15.2, 15.8, 14.8, 11.9, 10.85, 8.5, 9.2, 15.8, 12.2, 13.1, 15.0, 10.3, 11.5];
const GUST_AVERAGE = [13.1, 15.6, 14.6, 13.6, 11.1, 6.3, 3.4, 10.0, 9.3, 10.4, 7.2, 4.3, 4.6, 5.5, 5.4, 5.0, 4.7, 5.0, 4.9, 5.4, 5.4, 5.3, 5.6, 6.3, 6.7, 7.9, 7.3, 7.3, 7.4, 8.3, 8.6, 8.6, 8.7, 9.4, 8.8, 8.5, 8.5, 9.7, 9.8, 9.3, 9.3, 10.3, 10.5, 10.9, 11.3, 12.6, 11.5, 12.8, 12.7, 12.0, 10.9, 11.3, 11.8, 11.8, 11.3, 10.6, 11.9, 12.1, 10.6, 9.9];
const GUST_THRESHOLDS = [20.85];
const GUST_TOP_THRESHOLDS = [27.85];
const GUST_MEMBERS = [
  [14.0, 16.2, 15.0, 14.0, 11.5, 6.5, 3.5, 10.5, 10.0, 11.5, 8.0, 4.5, 6.5, 4.5, 5.0, 5.8, 4.5, 6.5, 6.0, 6.5, 7.5, 6.0, 6.5, 8.0, 9.0, 10.5, 9.5, 9.0, 10.0, 12.0, 13.0, 14.5, 15.5, 16.0, 14.5, 14.0, 15.5, 16.0, 16.5, 17.5, 16.0, 18.5, 19.5, 18.0, 17.0, 18.5, 16.5, 18.0, 19.0, 20.5, 18.5, 16.5, 15.5, 17.5, 19.0, 17.5, 17.0, 15.5, 14.0, 13.5],
  [10.0, 14.5, 13.5, 12.5, 10.5, 6.0, 3.0, 9.0, 8.5, 9.5, 6.0, 2.2, 3.5, 5.0, 3.0, 3.5, 3.0, 3.5, 2.5, 3.0, 1.5, 3.0, 3.5, 4.5, 3.5, 5.0, 4.5, 3.5, 5.0, 6.0, 4.5, 3.5, 3.0, 2.0, 1.8, 3.0, 4.5, 5.0, 4.5, 3.5, 4.0, 4.5, 3.5, 2.0, 3.0, 4.5, 3.5, 3.0, 4.5, 6.0, 4.5, 3.5, 4.5, 4.0, 3.5, 5.0, 3.0, 2.5, 3.0, 2.0],
  [13.5, 15.8, 15.0, 13.5, 11.2, 7.0, 4.0, 10.8, 9.0, 10.5, 7.5, 5.0, 6.0, 6.5, 6.0, 5.0, 6.0, 7.5, 6.5, 8.0, 9.0, 8.0, 9.5, 10.0, 9.5, 12.0, 11.0, 10.5, 11.0, 12.5, 12.0, 13.5, 16.0, 17.0, 14.5, 13.0, 12.0, 14.0, 14.5, 13.5, 12.5, 15.0, 16.0, 21.5, 19.5, 18.0, 22.8, 19.5, 18.0, 16.5, 15.0, 13.5, 12.0, 14.0, 16.5, 15.0, 13.5, 12.0, 11.0, 9.5],
  [12.0, 15.0, 14.2, 13.2, 10.8, 6.2, 3.0, 9.8, 9.0, 10.0, 6.5, 1.5, 3.0, 4.5, 3.5, 2.2, 3.0, 4.5, 3.5, 4.5, 3.5, 2.2, 3.0, 5.0, 4.5, 6.0, 6.5, 6.0, 5.0, 3.5, 4.5, 6.0, 5.0, 3.5, 2.0, 3.0, 5.0, 7.5, 6.5, 6.0, 5.0, 7.5, 6.0, 3.5, 3.0, 3.5, 5.0, 4.5, 3.5, 4.5, 6.0, 8.0, 6.5, 4.5, 3.0, 3.5, 4.5, 3.0, 3.5, 4.5],
  [13.8, 16.0, 15.0, 14.0, 11.4, 6.8, 3.5, 10.5, 9.6, 10.8, 7.8, 4.8, 4.5, 6.0, 5.7, 4.5, 5.2, 4.5, 6.0, 5.2, 6.8, 7.5, 6.0, 6.8, 8.2, 7.5, 9.0, 8.2, 9.8, 10.5, 9.8, 11.2, 10.5, 12.0, 11.2, 9.8, 10.5, 12.0, 11.2, 12.8, 13.5, 12.0, 12.8, 13.5, 15.0, 15.8, 14.2, 15.0, 16.5, 15.0, 14.2, 15.8, 16.5, 18.0, 16.5, 15.0, 17.2, 15.8, 13.5, 12.8],
  [12.8, 15.3, 14.4, 13.5, 11.0, 6.5, 3.3, 10.2, 9.3, 10.5, 7.2, 3.8, 5.2, 6.0, 4.5, 6.8, 5.2, 4.5, 5.2, 6.0, 5.2, 4.5, 6.0, 6.8, 7.5, 9.0, 7.5, 8.2, 7.5, 9.0, 10.5, 9.0, 11.2, 12.0, 10.5, 9.0, 8.2, 9.8, 10.5, 9.8, 9.0, 11.2, 12.0, 13.5, 12.0, 14.2, 12.8, 15.0, 16.5, 18.0, 22.5, 25.5, 19.5, 16.5, 15.0, 13.5, 12.0, 10.5, 9.8, 9.0],
  [13.2, 15.6, 14.7, 13.5, 11.1, 6.6, 3.5, 9.9, 9.3, 10.4, 7.5, 3.0, 4.5, 5.2, 5.7, 4.8, 3.8, 4.5, 3.8, 4.5, 5.2, 6.0, 5.2, 6.0, 6.8, 8.2, 6.8, 7.5, 6.8, 7.5, 8.2, 9.0, 8.2, 9.0, 8.2, 7.5, 8.2, 9.0, 9.8, 9.0, 8.2, 9.8, 10.5, 11.2, 10.5, 12.0, 11.2, 12.8, 12.0, 11.2, 10.5, 11.2, 10.5, 11.2, 12.0, 11.2, 12.8, 13.5, 12.0, 11.2],
  [14.5, 16.5, 15.5, 14.2, 11.7, 6.9, 3.8, 11.2, 10.5, 14.4, 9.0, 4.5, 6.0, 6.8, 6.0, 6.8, 7.5, 6.8, 7.5, 6.8, 8.2, 9.0, 8.2, 9.8, 11.2, 13.2, 12.0, 11.2, 12.0, 10.5, 12.8, 13.5, 12.0, 14.2, 15.0, 15.8, 16.5, 15.8, 16.5, 17.2, 18.0, 19.5, 21.8, 20.2, 18.8, 19.5, 18.0, 21.0, 22.5, 23.2, 21.0, 20.2, 18.0, 20.2, 22.5, 23.2, 24.0, 26.0, 21.0, 16.5],
  [11.2, 14.7, 13.8, 13.2, 10.5, 6.0, 3.0, 9.3, 8.7, 9.8, 6.8, 1.2, 2.2, 3.8, 4.5, 3.0, 1.5, 3.0, 2.2, 0.8, 3.0, 2.2, 1.5, 3.8, 4.5, 5.2, 3.8, 4.5, 3.0, 2.2, 3.0, 3.8, 3.0, 1.8, 3.8, 5.2, 3.8, 4.5, 3.8, 4.5, 3.0, 2.2, 1.5, 3.8, 3.0, 4.5, 6.0, 5.2, 4.5, 3.8, 5.2, 6.8, 4.5, 3.8, 5.2, 6.8, 6.0, 5.2, 6.0, 6.8],
  [12.9, 15.4, 14.5, 13.8, 11.2, 6.8, 3.3, 10.4, 9.4, 10.6, 7.6, 5.2, 6.0, 6.8, 6.0, 5.2, 6.0, 6.8, 7.5, 6.8, 7.5, 7.5, 8.2, 9.0, 9.8, 11.2, 10.5, 9.8, 10.5, 12.0, 14.2, 15.8, 16.5, 15.0, 14.2, 15.8, 16.5, 17.2, 15.0, 13.5, 15.0, 18.0, 17.2, 15.8, 15.0, 16.5, 15.8, 14.2, 15.0, 17.2, 15.8, 13.5, 15.0, 14.2, 12.8, 13.5, 12.0, 11.2, 12.0, 10.5],
  [9.8, 13.8, 13.5, 12.9, 10.8, 6.4, 3.4, 9.6, 9.0, 10.0, 7.2, 3.3, 4.2, 4.8, 4.2, 4.5, 5.2, 4.2, 4.5, 5.2, 6.0, 4.8, 6.0, 7.2, 6.3, 7.5, 8.2, 7.2, 6.3, 7.2, 8.2, 7.5, 6.8, 7.8, 9.0, 8.2, 7.5, 8.7, 9.8, 9.0, 7.8, 9.0, 10.5, 9.8, 9.0, 11.2, 12.8, 11.2, 9.8, 10.5, 9.0, 8.2, 9.8, 10.5, 9.0, 8.2, 9.8, 9.0, 8.2, 7.5],
  [13.5, 15.9, 15.0, 13.8, 11.4, 6.8, 3.5, 10.5, 9.9, 11.0, 8.0, 3.9, 5.7, 6.3, 5.4, 4.8, 4.2, 5.2, 4.5, 5.7, 4.8, 5.7, 5.2, 6.0, 7.5, 9.8, 8.2, 9.0, 8.2, 9.8, 11.2, 12.0, 10.5, 11.2, 12.8, 14.2, 13.5, 12.0, 12.8, 14.2, 15.8, 14.2, 13.5, 15.0, 16.5, 15.0, 13.5, 15.8, 17.2, 15.8, 14.2, 12.8, 13.5, 15.0, 13.5, 12.0, 13.5, 15.0, 12.8, 12.0],
  [12.3, 15.0, 14.4, 13.5, 11.0, 6.6, 3.3, 10.0, 9.2, 10.2, 7.4, 4.2, 4.8, 4.5, 5.2, 4.5, 3.8, 4.2, 4.8, 4.5, 3.8, 4.5, 5.2, 4.8, 5.7, 6.8, 6.0, 6.3, 7.5, 6.8, 6.0, 6.8, 7.5, 8.2, 7.2, 6.8, 7.5, 8.2, 7.5, 6.8, 8.2, 9.0, 8.2, 7.5, 9.0, 9.8, 9.0, 10.5, 9.8, 8.2, 7.5, 9.0, 9.8, 8.2, 7.5, 9.0, 8.2, 7.5, 9.0, 8.2],
  [14.1, 16.0, 15.2, 14.1, 11.6, 6.8, 3.6, 10.8, 10.2, 11.4, 8.1, 5.0, 6.3, 7.2, 6.8, 6.0, 6.8, 6.0, 6.8, 7.5, 6.8, 8.2, 7.5, 8.2, 9.0, 9.8, 9.0, 9.8, 11.2, 12.0, 13.5, 12.8, 14.2, 15.0, 17.2, 15.8, 15.0, 16.5, 18.8, 20.2, 18.0, 16.5, 18.0, 19.5, 21.0, 18.8, 17.2, 18.8, 20.2, 18.0, 16.5, 18.0, 19.5, 17.2, 15.8, 17.2, 18.8, 16.5, 15.0, 14.2],
];

// ---------- Bedekkingsgraad ----------
const CLOUD_CONTROL = [100, 99, 95.5, 71.4, 12.8, 0.5, 1.3, 31, 61, 30, 10.8, 8, 76, 99, 76.5, 15, 6, 9, 15, 40.6, 79, 89.4, 78.2, 30.4, 26.3, 52.8, 64.6, 51.5, 22.7, 8.6, 54, 94.5, 92.8, 54.7, 32.3, 22.3, 49.6, 89.7, 86.2, 44.5, 32.3, 57, 81.7, 80, 74.9, 78.2, 49.2, 95.1, 91, 93, 93.5, 91.7, 93.6, 92.8, 98.7, 97.3, 84.9, 63.3, 81.7, 31.7];
const CLOUD_LOW = [null, null, 99, 86, 11.5, 0.3, 0.8, 27.5, 59.5, 23.5, 7.5, 7, 25.5, 40, 36.5, 15, 20, 19, 27.5, 31.5, 24, 14, 17, 4, 4, 5, 7.5, 20.5, 19.5, 9, 17, 38.5, 27.5, 39.5, 33, 50.5, 43, 29.5, 30.5, 40.5, 27, 47.5, 60, 59, 64, 55.5, 51, 52, 34.5, 43.5, 39.5, 32, 33, 57.5, 58, 37.5, 31, 40.5, 46.5, 37];
const CLOUD_HIGH = [null, null, 100, 94, 14.5, 1, 1.2, 48, 71.5, 40, 24, 31, 79, 94, 79, 70.5, 87, 92, 84, 70.5, 72.5, 83, 83, 90.5, 90, 94, 92, 91, 83, 60, 80, 84.5, 88.5, 76.5, 77.5, 69, 74, 80, 85.5, 85, 80.5, 82, 88, 89, 84.5, 86.5, 92, 90.5, 84.5, 89.5, 84, 75.5, 86.5, 85.5, 95.5, 91.5, 84.5, 80.5, 75, 84];
const CLOUD_MEDIAN = [null, null, 99.5, 89, 12.5, 0.5, 1, 35, 64.5, 32.5, 12, 20.5, 52, 79.5, 72.5, 29, 71.5, 47, 64.5, 53.5, 48.5, 44.5, 41, 51.5, 55.5, 52.5, 64.5, 52, 52.5, 23.5, 54, 71, 67.5, 54, 55.5, 54, 54, 55, 67.5, 60, 54.5, 58.5, 81.5, 79.5, 76, 73.5, 68, 69, 61, 79.5, 53, 56.5, 72.5, 70, 76.5, 69, 68.5, 64, 58, 60.5];

// ---------- styling ----------
const FONT = '"Liberation Sans", Arial, Helvetica, sans-serif';
const CONTROL_COLOR = '#3535cc';
const AVG_COLOR = '#780000';
const MEMBER_COLOR = 'rgba(74,158,42,0.46)';
const MEMBER_LEGEND = '#a4d498';
const LIGHT_GRID = '#dcdcdc';
const DAY_GRID = '#646464';
const THRESH_COLOR = '#2a5e5e';
const TOP_THRESH_COLOR = '#ff4dff';
const BOX_FILL = '#ffffb2';
const BOX_BORDER = '#c6c6c6';
const MEDIAN_COLOR = '#3a3a10';

const pts = (arr: (number | null)[]) => arr.map((y, x) => ({ x, y }));
const flat = (v: number) => [{ x: 0, y: v }, { x: STEP_MAX, y: v }];

const decorPlugin = {
  id: 'decor',
  beforeDatasetsDraw(chart: any) {
    const { ctx, chartArea: a } = chart;
    ctx.save();
    ctx.strokeStyle = '#000';
    ctx.lineWidth = 1;
    ctx.beginPath();
    ctx.moveTo(a.left, a.top + 0.5);
    ctx.lineTo(a.right, a.top + 0.5);
    ctx.moveTo(a.right - 0.5, a.top);
    ctx.lineTo(a.right - 0.5, a.bottom);
    ctx.stroke();
    ctx.restore();
  },
  afterDraw(chart: any, _args: any, opts: any) {
    const { ctx } = chart;
    ctx.save();
    ctx.font = `11px ${FONT}`;
    ctx.textBaseline = 'middle';
    ctx.textAlign = 'left';
    if (opts.kind === 'cloud') {
      const sq = (x: number, fill: string, border: string) => {
        ctx.fillStyle = fill;
        ctx.fillRect(x, 9, 8, 8);
        ctx.strokeStyle = border;
        ctx.lineWidth = 1;
        ctx.strokeRect(x + 0.5, 9.5, 7, 7);
      };
      sq(28, CONTROL_COLOR, '#1a1a55');
      sq(97, BOX_FILL, '#444');
      sq(156, '#111', '#000');
      ctx.fillStyle = '#000';
      ctx.fillText('control', 39, 13);
      ctx.fillText('50%', 108, 13);
      ctx.fillText('median', 167, 13);
    } else {
      ctx.fillStyle = CONTROL_COLOR;
      ctx.fillRect(28, 11, 15, 4);
      ctx.strokeStyle = MEMBER_LEGEND;
      ctx.lineWidth = 1;
      ctx.beginPath();
      ctx.moveTo(106, 13.5);
      ctx.lineTo(121, 13.5);
      ctx.stroke();
      ctx.strokeStyle = AVG_COLOR;
      ctx.lineWidth = 3;
      ctx.setLineDash([3, 2]);
      ctx.beginPath();
      ctx.moveTo(194, 13);
      ctx.lineTo(209, 13);
      ctx.stroke();
      ctx.setLineDash([]);
      ctx.fillStyle = '#000';
      ctx.fillText('Control', 48, 13);
      ctx.fillText('Members', 126, 13);
      ctx.fillText('Average', 214, 13);
    }
    ctx.font = `bold 13px ${FONT}`;
    ctx.textAlign = 'center';
    ctx.fillStyle = '#000';
    ctx.fillText(opts.title, 415, 12);
    ctx.font = `11px ${FONT}`;
    ctx.textAlign = 'right';
    ctx.textBaseline = 'alphabetic';
    ctx.fillStyle = '#a0a0a0';
    ctx.fillText('Infoplaza.nl - regio oost', 633, 7.5);
    ctx.fillText('Gemaakt: za 27 dec 20:00', 633, 17.5);
    ctx.restore();
  },
};

function xScale(half: boolean) {
  const tickVals: number[] = [];
  for (let i = 0; i <= STEP_MAX; i++) {
    if (half) {
      if (i < STEP_MAX) tickVals.push(i + 0.5);
    } else tickVals.push(i);
  }
  return {
    type: 'linear',
    min: 0,
    max: STEP_MAX,
    offset: false,
    afterBuildTicks: (s: any) => {
      s.ticks = tickVals.map((v) => ({ value: v }));
    },
    afterFit: (s: any) => {
      s.height = 20;
    },
    ticks: {
      autoSkip: false,
      maxRotation: 0,
      minRotation: 0,
      padding: 1,
      color: '#000',
      font: { family: FONT, size: 11 },
      callback: (v: number) => {
        if (half) {
          const k = (v + 0.5) / 4;
          return Number.isInteger(k) && k >= 1 && k < DAY_LABELS.length ? DAY_LABELS[k] : '';
        }
        return v % 4 === 0 ? DAY_LABELS[v / 4] : '';
      },
    },
    grid: {
      offset: false,
      color: (c: any) => {
        const v = c.tick ? c.tick.value : 0;
        const dark = half ? (v - 0.5) % 4 === 0 : v % 4 === 2;
        return dark ? DAY_GRID : LIGHT_GRID;
      },
      lineWidth: 1,
      tickColor: '#000',
      tickLength: 4,
    },
    border: { color: '#000', width: 1 },
  };
}

function yScale(min: number, max: number, step: number, zeroLine: boolean) {
  const vals: number[] = [];
  for (let v = min; v <= max + 1e-9; v += step) vals.push(v);
  const isZero = (c: any) => zeroLine && c.tick && c.tick.value === 0;
  return {
    type: 'linear',
    min,
    max,
    afterBuildTicks: (s: any) => {
      s.ticks = vals.map((v) => ({ value: v }));
    },
    afterFit: (s: any) => {
      s.width = 28;
    },
    ticks: { padding: 2, color: '#000', font: { family: FONT, size: 11 } },
    grid: {
      color: (c: any) => (isZero(c) ? '#000' : LIGHT_GRID),
      lineWidth: (c: any) => (isZero(c) ? 2 : 1),
      tickColor: '#000',
      tickLength: 5,
    },
    border: { color: '#000', width: 1 },
  };
}

function baseOptions(title: string, kind: string, x: any, y: any) {
  return {
    animation: false,
    responsive: false,
    devicePixelRatio: 1,
    events: [],
    layout: { padding: { top: 20, right: 1, left: 0, bottom: 0 } },
    elements: { point: { radius: 0 }, line: { tension: 0 } },
    plugins: { legend: { display: false }, tooltip: { enabled: false }, decor: { title, kind } },
    scales: { x, y },
  };
}

type EnsProps = {
  title: string;
  control: number[];
  average: number[];
  members: number[][];
  yMin: number;
  yMax: number;
  yStep: number;
  zeroLine?: boolean;
  thresholds?: number[];
  topThresholds?: number[];
};

function ensembleConfig(p: EnsProps) {
  const datasets: any[] = [
    { data: pts(p.control), borderColor: CONTROL_COLOR, borderWidth: 3, borderJoinStyle: 'round', order: 0 },
    { data: pts(p.average), borderColor: AVG_COLOR, borderWidth: 3, borderDash: [3, 3], order: 1 },
  ];
  (p.thresholds || []).forEach((t) =>
    datasets.push({ data: flat(t), borderColor: THRESH_COLOR, borderWidth: 2, borderDash: [2, 2], order: 2 })
  );
  (p.topThresholds || []).forEach((t) =>
    datasets.push({ data: flat(t), borderColor: TOP_THRESH_COLOR, borderWidth: 3, borderDash: [5, 4], order: 2 })
  );
  p.members.forEach((m) => datasets.push({ data: pts(m), borderColor: MEMBER_COLOR, borderWidth: 1, order: 3 }));
  return {
    type: 'line',
    data: { datasets },
    options: baseOptions(p.title, 'ens', xScale(false), yScale(p.yMin, p.yMax, p.yStep, !!p.zeroLine)),
    plugins: [decorPlugin],
  };
}

function cloudConfig() {
  const boxes = CLOUD_LOW.map((lo, i) => (lo === null || CLOUD_HIGH[i] === null ? null : { x: i, y: [lo, CLOUD_HIGH[i]] })).filter(
    (d) => d !== null
  );
  const medians = CLOUD_MEDIAN.map((m, i) => (m === null ? null : { x: i, y: m })).filter((d) => d !== null);
  return {
    type: 'bar',
    data: {
      datasets: [
        { type: 'line', data: pts(CLOUD_CONTROL), borderColor: CONTROL_COLOR, borderWidth: 2, pointRadius: 0, order: 0 },
        {
          type: 'line',
          data: medians,
          showLine: false,
          pointStyle: 'line',
          pointRadius: 4.5,
          pointBorderColor: MEDIAN_COLOR,
          pointBorderWidth: 1.5,
          order: 1,
        },
        {
          type: 'bar',
          data: boxes,
          backgroundColor: BOX_FILL,
          borderColor: BOX_BORDER,
          borderWidth: 1,
          borderSkipped: false,
          barThickness: 9,
          order: 2,
        },
      ],
    },
    options: baseOptions('Bedekkingsgraad', 'cloud', xScale(true), yScale(0, 100, 10, false)),
    plugins: [decorPlugin],
  };
}

function Panel({ make }: { make: () => any }) {
  const ref = useRef<HTMLCanvasElement | null>(null);
  useEffect(() => {
    if (!ref.current) return;
    const chart = new Chart(ref.current, make());
    return () => chart.destroy();
  }, []);
  return <canvas ref={ref} width={635} height={300} style={{ display: 'block', width: 635, height: 300 }} />;
}

export default function App() {
  useEffect(() => {
    document.body.style.margin = '0';
    document.body.style.background = '#fff';
  }, []);
  return (
    <div style={{ width: 635, background: '#fff' }}>
      <Panel
        make={() =>
          ensembleConfig({ title: 'Temperatuur 2m', control: TEMP_CONTROL, average: TEMP_AVERAGE, members: TEMP_MEMBERS, yMin: -15, yMax: 15, yStep: 5, zeroLine: true })
        }
      />
      <Panel
        make={() =>
          ensembleConfig({ title: 'Dauwpunt 2m', control: DEW_CONTROL, average: DEW_AVERAGE, members: DEW_MEMBERS, yMin: -15, yMax: 15, yStep: 5 })
        }
      />
      <Panel
        make={() =>
          ensembleConfig({ title: 'Neerslag', control: RAIN_CONTROL, average: RAIN_AVERAGE, members: RAIN_MEMBERS, yMin: 0, yMax: 12, yStep: 2 })
        }
      />
      <Panel
        make={() =>
          ensembleConfig({ title: '10m wind', control: WIND_CONTROL, average: WIND_AVERAGE, members: WIND_MEMBERS, yMin: 0, yMax: 20, yStep: 2, thresholds: WIND_THRESHOLDS })
        }
      />
      <Panel
        make={() =>
          ensembleConfig({
            title: '10m windstoten',
            control: GUST_CONTROL,
            average: GUST_AVERAGE,
            members: GUST_MEMBERS,
            yMin: 0,
            yMax: 28,
            yStep: 2,
            thresholds: GUST_THRESHOLDS,
            topThresholds: GUST_TOP_THRESHOLDS,
          })
        }
      />
      <Panel make={cloudConfig} />
    </div>
  );
}
